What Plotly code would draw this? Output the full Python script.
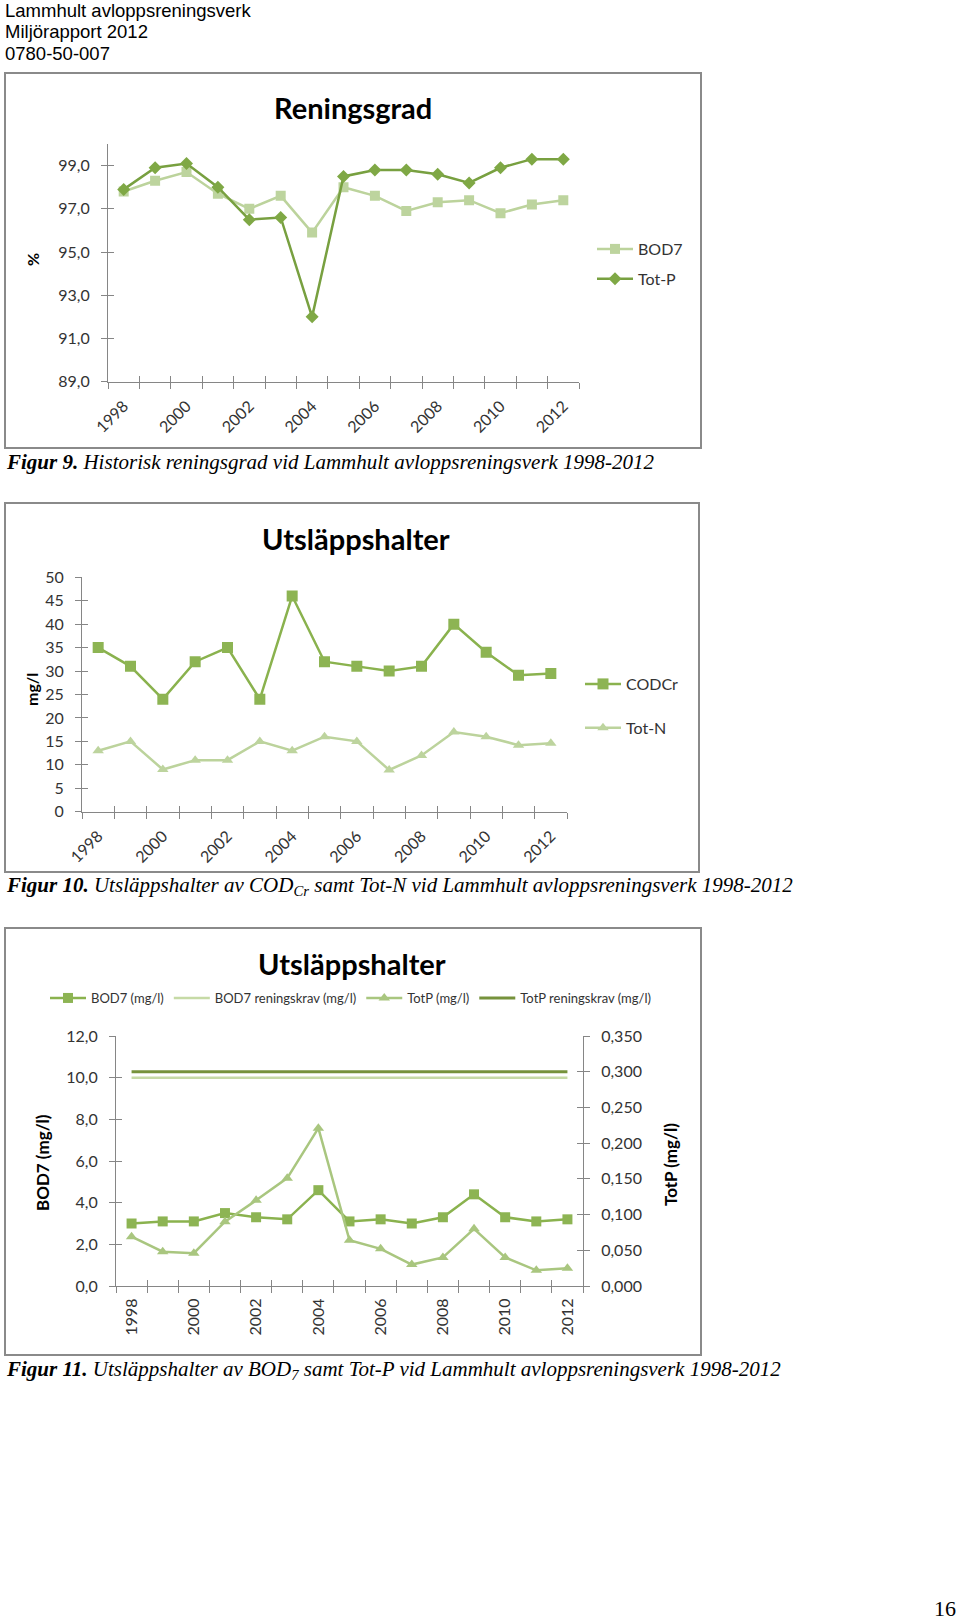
import plotly.graph_objects as go

# ---------------- data ----------------
years = [1998, 1999, 2000, 2001, 2002, 2003, 2004, 2005, 2006, 2007, 2008, 2009, 2010, 2011, 2012]
label_years = [1998, 2000, 2002, 2004, 2006, 2008, 2010, 2012]
label_text = ["1998", "2000", "2002", "2004", "2006", "2008", "2010", "2012"]

# Figur 9 - Reningsgrad (%)
rg_bod7 = [97.8, 98.3, 98.7, 97.7, 97.0, 97.6, 95.9, 98.0, 97.6, 96.9, 97.3, 97.4, 96.8, 97.2, 97.4]
rg_totp = [97.9, 98.9, 99.1, 98.0, 96.5, 96.6, 92.0, 98.5, 98.8, 98.8, 98.6, 98.2, 98.9, 99.3, 99.3]
rg_ticks = [89, 91, 93, 95, 97, 99]
rg_ticktext = ["89,0", "91,0", "93,0", "95,0", "97,0", "99,0"]

# Figur 10 - Utsläppshalter (mg/l)
codcr = [35, 31, 24, 32, 35, 24, 46, 32, 31, 30, 31, 40, 34, 29.1, 29.5]
totn = [13, 15, 9, 11, 11, 15, 13, 16, 15, 8.9, 12, 17, 16, 14.2, 14.6]
u_ticks = [0, 5, 10, 15, 20, 25, 30, 35, 40, 45, 50]
u_ticktext = ["0", "5", "10", "15", "20", "25", "30", "35", "40", "45", "50"]

# Figur 11 - BOD7 and TotP
bod7_mgl = [3.0, 3.1, 3.1, 3.5, 3.3, 3.2, 4.6, 3.1, 3.2, 3.0, 3.3, 4.4, 3.3, 3.1, 3.2]
bod7_krav = [10.0, 10.0, 10.0, 10.0, 10.0, 10.0, 10.0, 10.0, 10.0, 10.0, 10.0, 10.0, 10.0, 10.0, 10.0]
totp_mgl = [0.069, 0.048, 0.046, 0.090, 0.120, 0.151, 0.221, 0.064, 0.052, 0.030, 0.040, 0.080, 0.040, 0.022, 0.025]
totp_krav = [0.3, 0.3, 0.3, 0.3, 0.3, 0.3, 0.3, 0.3, 0.3, 0.3, 0.3, 0.3, 0.3, 0.3, 0.3]
l_ticks = [0, 2, 4, 6, 8, 10, 12]
l_ticktext = ["0,0", "2,0", "4,0", "6,0", "8,0", "10,0", "12,0"]
r_ticks = [0, 0.05, 0.10, 0.15, 0.20, 0.25, 0.30, 0.35]
r_ticktext = ["0,000", "0,050", "0,100", "0,150", "0,200", "0,250", "0,300", "0,350"]

cat_edges = [1997.5, 1998.5, 1999.5, 2000.5, 2001.5, 2002.5, 2003.5, 2004.5, 2005.5,
             2006.5, 2007.5, 2008.5, 2009.5, 2010.5, 2011.5, 2012.5]

# ---------------- styling helpers ----------------
W, H = 960, 1620
def fx(x): return x / W
def fy(y): return 1 - y / H

AX = "#868686"
TXT = "#333333"
DARK = "#78A040"
DARK_M = "#7FA845"
MID_L = "#8AB24E"
MID_M = "#8DB453"
LIGHT = "#BCD39C"
LIGHT_M = "#BDD49E"
TRI = "#A9C67F"
KRAV_L = "#C6DAA6"
KRAV_D = "#76923C"
TICKFONT = dict(family="Lato", size=16, color=TXT)

fig = go.Figure()

# ---------- Figur 9 ----------
fig.add_trace(go.Scatter(x=years, y=rg_bod7, name="BOD7", mode="lines+markers",
                         line=dict(color=LIGHT, width=2.5),
                         marker=dict(symbol="square", size=10, color=LIGHT_M),
                         xaxis="x", yaxis="y", legend="legend", legendgroup="a1"))
fig.add_trace(go.Scatter(x=years, y=rg_totp, name="Tot-P", mode="lines+markers",
                         line=dict(color=DARK, width=2.5),
                         marker=dict(symbol="diamond", size=10, color=DARK_M),
                         xaxis="x", yaxis="y", legend="legend", legendgroup="a2"))

# ---------- Figur 10 ----------
fig.add_trace(go.Scatter(x=years, y=codcr, name="CODCr", mode="lines+markers",
                         line=dict(color=MID_L, width=2.5),
                         marker=dict(symbol="square", size=11, color=MID_M),
                         xaxis="x2", yaxis="y2", legend="legend2", legendgroup="b1"))
fig.add_trace(go.Scatter(x=years, y=totn, name="Tot-N", mode="lines+markers",
                         line=dict(color=LIGHT, width=2.5),
                         marker=dict(symbol="triangle-up", size=10, color=LIGHT_M),
                         xaxis="x2", yaxis="y2", legend="legend2", legendgroup="b2"))

# ---------- Figur 11 ----------
fig.add_trace(go.Scatter(x=years, y=bod7_mgl, name="BOD7 (mg/l)", mode="lines+markers",
                         line=dict(color=MID_L, width=2.5),
                         marker=dict(symbol="square", size=10, color=MID_M),
                         xaxis="x3", yaxis="y3", legend="legend3"))
fig.add_trace(go.Scatter(x=years, y=bod7_krav, name="BOD7 reningskrav (mg/l)", mode="lines",
                         line=dict(color=KRAV_L, width=2.5),
                         xaxis="x3", yaxis="y3", legend="legend3"))
fig.add_trace(go.Scatter(x=years, y=totp_mgl, name="TotP (mg/l)", mode="lines+markers",
                         line=dict(color=TRI, width=2.5),
                         marker=dict(symbol="triangle-up", size=10, color=TRI),
                         xaxis="x3", yaxis="y4", legend="legend3"))
fig.add_trace(go.Scatter(x=years, y=totp_krav, name="TotP reningskrav (mg/l)", mode="lines",
                         line=dict(color=KRAV_D, width=3),
                         xaxis="x3", yaxis="y4", legend="legend3"))

# invisible helper traces so the overlay (inside tick) axes get drawn
for xa, ya in [("x4", "y"), ("x", "y5"), ("x5", "y2"), ("x2", "y6"),
               ("x6", "y3"), ("x3", "y7"), ("x3", "y8")]:
    fig.add_trace(go.Scatter(x=[None], y=[None], xaxis=xa, yaxis=ya, showlegend=False,
                             hoverinfo="skip", mode="markers"))


def cat_xaxis(dom, anchor, angle, standoff):
    return dict(domain=dom, anchor=anchor, range=[1997.5, 2012.5], showgrid=False,
                zeroline=False, showline=True, linecolor=AX, linewidth=1,
                tickmode="array", tickvals=label_years, ticktext=label_text,
                ticks="", tickangle=angle, tickfont=TICKFONT, ticklabelstandoff=standoff,
                minor=dict(tickmode="array", tickvals=cat_edges, ticks="outside",
                           ticklen=6, tickcolor=AX, tickwidth=1),
                automargin=False, fixedrange=True)


def inside_x(over, anchor):
    return dict(overlaying=over, anchor=anchor, range=[1997.5, 2012.5], showgrid=False,
                zeroline=False, showline=False, tickmode="array", tickvals=cat_edges,
                ticks="inside", ticklen=6, tickcolor=AX, showticklabels=False,
                automargin=False)


def val_yaxis(dom, anchor, rng, tv, tt, side="left"):
    d = dict(anchor=anchor, range=rng, showgrid=False, zeroline=False, showline=True,
             linecolor=AX, linewidth=1, tickmode="array", tickvals=tv, ticktext=tt,
             ticks="outside", ticklen=6, tickcolor=AX, tickfont=TICKFONT,
             ticklabelstandoff=8, side=side, fixedrange=True, automargin=False)
    if dom is not None:
        d["domain"] = dom
    return d


def inside_y(over, anchor, rng, tv, side="left"):
    return dict(overlaying=over, anchor=anchor, range=rng, showgrid=False, zeroline=False,
                showline=False, tickmode="array", tickvals=tv, ticks="inside", ticklen=6,
                tickcolor=AX, showticklabels=False, side=side, automargin=False)


x1dom = [fx(108), fx(579)]
y1dom = [fy(381.7), fy(144)]
x2dom = [fx(82), fx(567)]
y2dom = [fy(811.7), fy(577.3)]
x3dom = [fx(116), fx(583)]
y3dom = [fy(1286), fy(1036)]

fig.update_layout(
    width=W, height=H, margin=dict(l=0, r=0, t=0, b=0, pad=0, autoexpand=False),
    paper_bgcolor="white", plot_bgcolor="white",
    xaxis=cat_xaxis(x1dom, "y", -45, 8),
    yaxis=val_yaxis(y1dom, "x", [89, 100], rg_ticks, rg_ticktext),
    xaxis2=cat_xaxis(x2dom, "y2", -45, 8),
    yaxis2=val_yaxis(y2dom, "x2", [0, 50], u_ticks, u_ticktext),
    xaxis3=cat_xaxis(x3dom, "y3", -90, 5),
    yaxis3=val_yaxis(y3dom, "x3", [0, 12], l_ticks, l_ticktext),
    yaxis4=dict(val_yaxis(None, "x3", [0, 0.35], r_ticks, r_ticktext, side="right"),
                overlaying="y3"),
    xaxis4=inside_x("x", "y"),
    yaxis5=inside_y("y", "x", [89, 100], rg_ticks),
    xaxis5=inside_x("x2", "y2"),
    yaxis6=inside_y("y2", "x2", [0, 50], u_ticks),
    xaxis6=inside_x("x3", "y3"),
    yaxis7=inside_y("y3", "x3", [0, 12], l_ticks),
    yaxis8=inside_y("y3", "x3", [0, 0.35], r_ticks, side="right"),
    legend=dict(x=fx(592), y=fy(232), xanchor="left", yanchor="top",
                font=dict(family="Lato", size=16, color=TXT), bgcolor="rgba(0,0,0,0)",
                itemwidth=36, tracegroupgap=6),
    legend2=dict(x=fx(580), y=fy(667), xanchor="left", yanchor="top",
                 font=dict(family="Lato", size=16, color=TXT), bgcolor="rgba(0,0,0,0)",
                 itemwidth=36, tracegroupgap=20),
    legend3=dict(x=fx(45), y=fy(998), xanchor="left", yanchor="middle", orientation="h",
                 font=dict(family="Lato", size=13, color=TXT), bgcolor="rgba(0,0,0,0)",
                 itemwidth=36),
    showlegend=True,
)

# chart frames
for (x0, y0, x1, y1) in [(5, 73, 701, 448), (5, 503, 699, 872), (5, 928, 701, 1355)]:
    fig.add_shape(type="rect", xref="paper", yref="paper", x0=fx(x0), x1=fx(x1),
                  y0=fy(y1), y1=fy(y0), line=dict(color="#8a8a8a", width=2),
                  fillcolor="rgba(0,0,0,0)", layer="below")

ann = []
def add_text(text, x, y, size, family, xanchor="center", yanchor="middle", angle=0,
             color="#000000"):
    ann.append(dict(text=text, x=fx(x), y=fy(y), xref="paper", yref="paper",
                    xanchor=xanchor, yanchor=yanchor, showarrow=False, textangle=angle,
                    font=dict(family=family, size=size, color=color)))

# header
add_text("Lammhult avloppsreningsverk", 3, 10, 18.5, "Liberation Sans", xanchor="left")
add_text("Miljörapport 2012", 3, 31.5, 18.5, "Liberation Sans", xanchor="left")
add_text("0780-50-007", 3, 53, 18.5, "Liberation Sans", xanchor="left")

# chart titles
add_text("<b>Reningsgrad</b>", 353, 108, 29, "Lato")
add_text("<b>Utsläppshalter</b>", 356, 538, 29, "Lato")
add_text("<b>Utsläppshalter</b>", 352, 963, 29, "Lato")

# axis titles
add_text("<b>%</b>", 32, 260, 16, "Lato", angle=-90)
add_text("<b>mg/l</b>", 31, 690, 16, "Lato", angle=-90)
add_text("<b>BOD7 (mg/l)</b>", 42, 1163, 17, "Lato", angle=-90)
add_text("<b>TotP (mg/l)</b>", 670, 1165, 17, "Lato", angle=-90)

# captions
add_text("<b><i>Figur 9.</i></b><i> Historisk reningsgrad vid Lammhult avloppsreningsverk 1998-2012</i>",
         4, 462, 21, "Liberation Serif", xanchor="left")
add_text("<b><i>Figur 10.</i></b><i> Utsläppshalter av COD<sub>Cr</sub> samt Tot-N vid Lammhult avloppsreningsverk 1998-2012</i>",
         4, 886, 21, "Liberation Serif", xanchor="left")
add_text("<b><i>Figur 11.</i></b><i> Utsläppshalter av BOD<sub>7</sub> samt Tot-P vid Lammhult avloppsreningsverk 1998-2012</i>",
         4, 1370, 21, "Liberation Serif", xanchor="left")

# page number
add_text("16", 945, 1608, 22, "Liberation Serif")

fig.update_layout(annotations=ann)

fig.write_html("out.html", config={"displayModeBar": False},
               post_script="document.body.style.margin='0';document.body.style.overflow='hidden';")
